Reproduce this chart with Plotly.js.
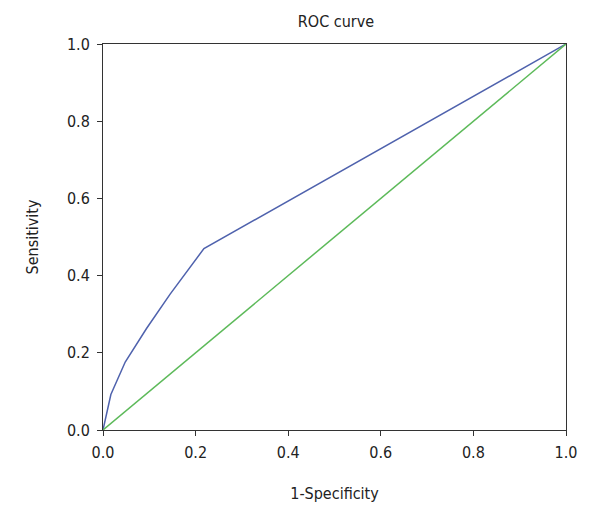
<!DOCTYPE html>
<html>
<head>
<meta charset="utf-8">
<script src="https://cdn.plot.ly/plotly-3.0.1.min.js"></script>
<style>
  body { margin: 0; background: #fff; }
  #chart { width: 600px; height: 520px; }
</style>
</head>
<body>
<div id="chart"></div>
<script>
// ROC curve points
var fpr = [0, 0.017, 0.048, 0.094, 0.145, 0.218, 1];
var tpr = [0, 0.092, 0.176, 0.263, 0.352, 0.47, 1];

// reference diagonal
var refX = [0, 1];
var refY = [0, 1];

var ticks = [0, 0.2, 0.4, 0.6, 0.8, 1];
var tickText = ["0.0", "0.2", "0.4", "0.6", "0.8", "1.0"];

var font = "DejaVu Sans Condensed, Liberation Sans Narrow, Roboto, sans-serif";

var roc = {
  x: fpr,
  y: tpr,
  type: "scatter",
  mode: "lines",
  line: {color: "#4f62ad", width: 1.5},
  hoverinfo: "none"
};
var diag = {
  x: refX,
  y: refY,
  type: "scatter",
  mode: "lines",
  line: {color: "#5dba5a", width: 1.5},
  hoverinfo: "none"
};

var axisStyle = {
  range: [0, 1],
  tickvals: ticks,
  ticktext: tickText,
  ticks: "outside",
  ticklen: 5,
  tickwidth: 1,
  tickcolor: "#333",
  showline: true,
  linecolor: "#333",
  linewidth: 1,
  mirror: true,
  showgrid: false,
  zeroline: false,
  tickfont: {family: font, size: 16, color: "#222"}
};

var layout = {
  width: 600,
  height: 520,
  margin: {l: 103, r: 34, t: 44, b: 90},
  showlegend: false,
  paper_bgcolor: "#fff",
  plot_bgcolor: "#fff",
  title: {
    text: "ROC curve",
    font: {family: font, size: 16, color: "#222"},
    x: 0.56, xanchor: "center",
    y: 0.958, yanchor: "middle"
  },
  xaxis: Object.assign({}, axisStyle, {
    ticklabelstandoff: 3,
    title: {text: "1-Specificity", font: {family: font, size: 16, color: "#222"}, standoff: 26}
  }),
  yaxis: Object.assign({}, axisStyle, {
    ticklabelstandoff: 4,
    title: {text: "Sensitivity", font: {family: font, size: 16, color: "#222"}, standoff: 24}
  })
};

Plotly.newPlot("chart", [roc, diag], layout, {displayModeBar: false, staticPlot: true});
</script>
</body>
</html>
